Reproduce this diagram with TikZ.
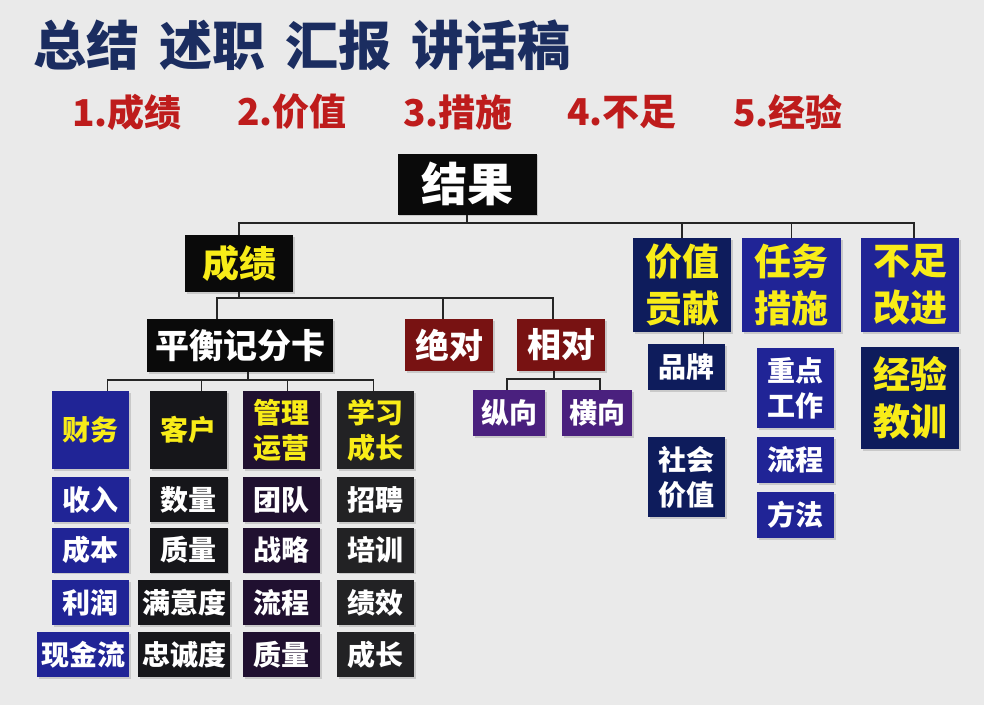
\documentclass[tikz,border=0pt]{standalone}
\usepackage{fontspec}
\setmainfont{Noto Sans CJK SC}
\usetikzlibrary{shadows}
\definecolor{bg}{RGB}{234,234,234}
\definecolor{titblue}{RGB}{27,45,96}
\definecolor{subred}{RGB}{190,28,28}
\definecolor{ylw}{RGB}{248,236,24}
\definecolor{boxblk}{RGB}{10,10,10}
\definecolor{boxnavy}{RGB}{14,28,92}
\definecolor{boxblue}{RGB}{32,36,150}
\definecolor{boxred}{RGB}{120,18,18}
\definecolor{boxpurp}{RGB}{74,32,126}
\definecolor{boxplum}{RGB}{32,16,48}
\definecolor{boxgray}{RGB}{34,34,36}
\definecolor{boxkh}{RGB}{22,22,26}
\tikzset{
  box/.style={inner sep=0pt,align=center,text=white!94,font=\bfseries\fontsize{28}{35}\selectfont,
    drop shadow={opacity=0.3,shadow xshift=1.5pt,shadow yshift=-1.5pt}},
  hd/.style={box,text=ylw},
  big/.style={font=\bfseries\fontsize{37}{47}\selectfont},
  link/.style={black!85,line width=1.6pt}
}
\begin{document}
\begin{tikzpicture}[x=1pt,y=-1pt]
\fill[bg] (0,0) rectangle (984,705);
\useasboundingbox (0,0) rectangle (984,705);
% heading and the five points
\node[anchor=west,inner sep=0pt,text=titblue,font=\bfseries\fontsize{53}{53}\selectfont] (title) at (33,45) {总结\hspace{20pt}述职\hspace{20pt}汇报\hspace{20pt}讲话稿};
\foreach \i/\x/\t in {1/72/成绩,2/237/价值,3/403/措施,4/567/不足,5/733/经验}
  \node[anchor=west,inner sep=0pt,text=subred,font=\bfseries\fontsize{37}{37}\selectfont] (sub\i) at (\x,112) {\i.\t};
% top of the tree
\node[box,fill=boxblk,minimum width=139,minimum height=61,font=\bfseries\fontsize{46}{46}\selectfont] (jg) at (467,184) {结果};
\node[hd,big,fill=boxblk,minimum width=108,minimum height=57] (cj) at (239,263.5) {成绩};
\node[hd,big,fill=boxnavy,minimum width=98,minimum height=94] (jz) at (682,285) {价值\\贡献};
\node[hd,big,fill=boxblue,minimum width=99,minimum height=94] (rw) at (791.5,285) {任务\\措施};
\node[hd,big,fill=boxblue,minimum width=98,minimum height=94] (bz) at (910,285) {不足\\改进};
\node[hd,big,fill=boxnavy,minimum width=98,minimum height=102] (jy) at (910,398) {经验\\教训};
\draw[link] (jg.south) -- ++(0,8) coordinate (busa);
\foreach \n in {cj,jz,rw} \draw[link] (busa) -| (\n.north);
\draw[link] (busa) -| ([xshift=4]bz.north);
% value and measures
\node[box,fill=boxnavy,minimum width=77,minimum height=46] (pp) at (686.5,367) {品牌};
\node[box,fill=boxnavy,minimum width=77,minimum height=80] (sh) at (686.5,477) {社会\\价值};
\node[box,fill=boxblue,minimum width=77,minimum height=80] (zd) at (795.5,388) {重点\\工作};
\node[box,fill=boxblue,minimum width=77,minimum height=46] (lc) at (795.5,460) {流程};
\node[box,fill=boxblue,minimum width=77,minimum height=46] (ff) at (795.5,515) {方法};
\draw[link] ([xshift=17]pp.north) -- ([xshift=17]pp.north |- jz.south);
% second level under 成绩
\node[box,fill=boxblk,minimum width=186,minimum height=53,font=\bfseries\fontsize{34}{34}\selectfont] (pk) at (240,345.5) {平衡记分卡};
\node[box,fill=boxred,minimum width=88,minimum height=52,font=\bfseries\fontsize{34}{34}\selectfont] (jd) at (449,345) {绝对};
\node[box,fill=boxred,minimum width=88,minimum height=52,font=\bfseries\fontsize{34}{34}\selectfont] (xd) at (561,345) {相对};
\draw[link] (cj.south) -- ++(0,6) coordinate (busb);
\foreach \n/\dx in {pk/-23,jd/-6,xd/-8} \draw[link] (busb) -| ([xshift=\dx]\n.north);
\node[box,fill=boxpurp,minimum width=72,minimum height=46] (zx) at (509,413) {纵向};
\node[box,fill=boxpurp,minimum width=70,minimum height=46] (hx) at (597,413) {横向};
\draw[link] ([xshift=-7]xd.south) -- ++(0,8) coordinate (busd);
\foreach \n/\dx in {zx/-2,hx/3} \draw[link] (busd) -| ([xshift=\dx]\n.north);
% balanced scorecard: four columns
\foreach \n/\x/\c/\t in {cw/90.5/boxblue/财务,kh/188.5/boxkh/客户,gl/281.5/boxplum/管理\\运营,xx/375.5/boxgray/学习\\成长}
  \node[hd,fill=\c,minimum width=77,minimum height=78] (\n) at (\x,430) {\t};
\draw[link] ([xshift=8]pk.south) -- ++(0,8) coordinate (busc);
\foreach \n/\dx in {cw/17,kh/13,gl/6,xx/-2} \draw[link] (busc) -| ([xshift=\dx]\n.north);
\foreach \n/\x/\y/\w/\c/\t in {
  a1/90.5/499.5/77/boxblue/收入,a2/90.5/550/77/boxblue/成本,a3/90.5/602.5/77/boxblue/利润,a4/83/654.5/92/boxblue/现金流,
  b1/188.5/499.5/78/boxkh/数量,b2/188.5/550/78/boxkh/质量,b3/184/602.5/92/boxkh/满意度,b4/184/654.5/92/boxkh/忠诚度,
  c1/281.5/499.5/77/boxplum/团队,c2/281.5/550/77/boxplum/战略,c3/281.5/602.5/77/boxplum/流程,c4/281.5/654.5/77/boxplum/质量,
  d1/375.5/499.5/77/boxgray/招聘,d2/375.5/550/77/boxgray/培训,d3/375.5/602.5/77/boxgray/绩效,d4/375.5/654.5/77/boxgray/成长}
  \node[box,fill=\c,minimum width=\w,minimum height=45] (\n) at (\x,\y) {\t};
\end{tikzpicture}
\end{document}
